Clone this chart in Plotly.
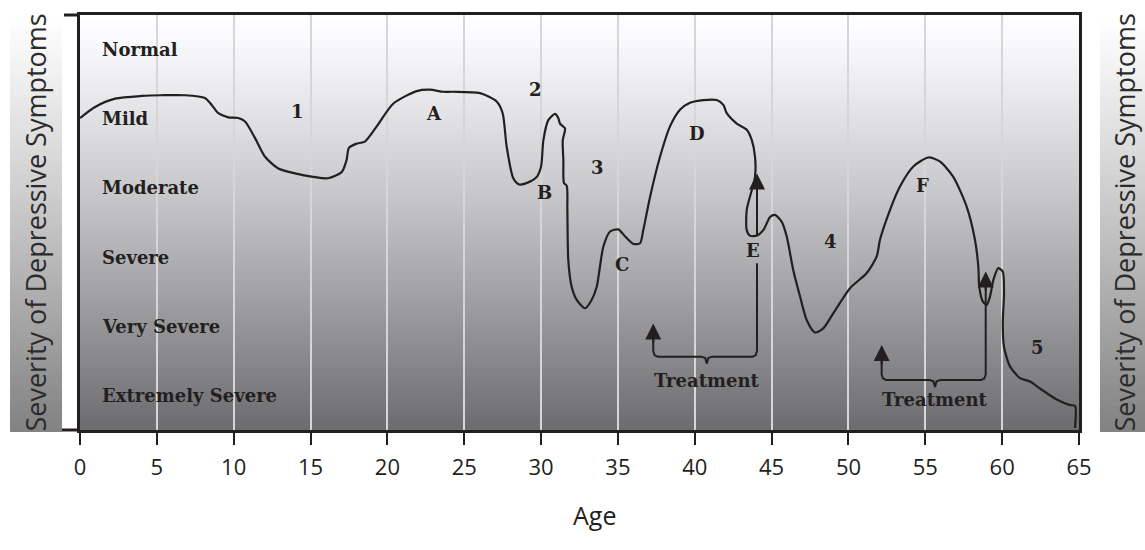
import plotly.graph_objects as go

# ---------------- data ----------------
ages = [0.0, 0.98, 2.28, 4.02, 5.32, 6.83, 8.13, 8.57, 9.0, 9.65, 10.3, 10.74, 11.39, 12.04,
        12.9, 13.99, 15.16, 16.14, 17.03, 17.34, 17.5, 18.0, 18.54, 19.31, 20.39, 21.91, 22.77,
        23.64, 24.29, 26.03, 27.11, 27.5, 27.76, 28.19, 28.58, 29.17, 29.72, 30.0, 30.15, 30.47,
        30.91, 31.12, 31.23, 31.56, 31.41, 31.45, 31.49, 31.67, 31.71, 31.77, 31.99, 32.32, 32.86,
        33.29, 33.62, 34.05, 34.49, 35.03, 35.46, 36.0, 36.44, 36.65, 37.09, 37.74, 38.39, 39.04,
        39.69, 40.56, 41.43, 41.86, 42.08, 42.73, 43.38, 43.71, 43.92, 43.92, 43.71, 43.38, 43.38,
        43.59, 44.03, 44.46, 44.9, 45.22, 45.66, 45.98, 46.41, 46.85, 47.28, 47.82, 48.36, 49.02,
        50.1, 51.19, 51.84, 52.05, 52.7, 53.35, 54.22, 55.2, 55.96, 56.82, 57.69, 58.23, 58.45,
        58.51, 58.74, 59.0, 59.21, 59.43, 59.75, 60.04, 60.12, 60.04, 60.12, 60.51, 61.16, 61.81,
        62.46, 63.55, 64.42, 64.74, 64.74]
severity = [4.51, 4.67, 4.79, 4.83, 4.84, 4.84, 4.8, 4.7, 4.58, 4.52, 4.51, 4.46, 4.22, 3.95,
            3.78, 3.71, 3.66, 3.64, 3.73, 3.9, 4.08, 4.14, 4.17, 4.39, 4.72, 4.9, 4.92,
            4.89, 4.89, 4.87, 4.75, 4.58, 4.1, 3.64, 3.55, 3.58, 3.66, 3.81, 4.19, 4.48,
            4.57, 4.51, 4.43, 4.36, 4.19, 3.9, 3.57, 3.53, 3.18, 2.46, 2.07, 1.88, 1.76,
            1.88, 2.07, 2.65, 2.87, 2.9, 2.8, 2.69, 2.7, 2.89, 3.37, 3.95, 4.39, 4.63,
            4.73, 4.77, 4.77, 4.7, 4.58, 4.43, 4.34, 4.19, 3.95, 3.66, 3.47, 3.18, 2.89,
            2.81, 2.81, 2.89, 3.08, 3.11, 3.01, 2.8, 2.31, 1.93, 1.59, 1.41, 1.47, 1.69,
            2.05, 2.27, 2.51, 2.75, 3.18, 3.52, 3.81, 3.94, 3.88, 3.66, 3.23, 2.75, 2.36,
            2.07, 1.86, 1.81, 1.93, 2.17, 2.34, 2.29, 1.98, 1.54, 1.2, 0.92, 0.75, 0.7,
            0.6, 0.44, 0.36, 0.35, 0.03]

age_ticks = [0, 5, 10, 15, 20, 25, 30, 35, 40, 45, 50, 55, 60, 65]
severity_levels = ["Extremely Severe", "Very Severe", "Severe", "Moderate", "Mild", "Normal"]
level_centers = [0.5, 1.5, 2.5, 3.5, 4.5, 5.5]

phase_labels = ["1", "A", "2", "B", "3", "C", "D", "E", "4", "F", "5"]
phase_ages = [14.12, 23.03, 29.61, 30.19, 33.7, 35.27, 40.15, 43.79, 48.86, 54.79, 62.27]
phase_sev = [4.6, 4.58, 4.92, 3.44, 3.79, 2.39, 4.28, 2.59, 2.73, 3.53, 1.2]

# treatment brackets: left arrow age, right arrow age, base severity, tips, brace age
treat_left = [37.3, 52.16]
treat_right = [44.05, 58.93]
treat_base = [1.06, 0.723]
treat_left_tip = [1.54, 1.23]
treat_right_tip = [3.71, 2.29]
treat_brace = [40.78, 55.63]
treat_label_sev = [0.72, 0.434]
treat_gap = [(2.41, 2.805), None]  # gap in right line around label "E"

INK = "#231f20"
SERIF = "DejaVu Serif"
SANS = "Open Sans"

fig = go.Figure()

# ---------------- background gradient ----------------
shapes = []
N = 100
step = 6 / N
def gray_at(t):  # t = 0 at top, 1 at bottom
    g = int(round(255 - 147 * (max(t, 0) ** 1.15)))
    return f"rgb({g},{g},{min(255, g + 3)})"

for i in range(N):
    y0 = i * step
    y1 = min(6, y0 + step * 1.8)
    t = 1 - (y0 + step / 2) / 6
    shapes.append(dict(type="rect", xref="x", yref="y", x0=0, x1=65, y0=y0, y1=y1,
                       fillcolor=gray_at(t), line=dict(width=0), layer="below"))

# side title boxes
def side_box(x0, x1):
    M = 80
    s = 1.01 / M
    for i in range(M):
        y0 = -0.005 + i * s
        y1 = min(1.005, y0 + s * 1.8)
        t = 1 - (y0 + s / 2)
        g = int(round(255 - 125 * (max(t, 0) ** 1.1)))
        shapes.append(dict(type="rect", xref="paper", yref="paper", x0=x0, x1=x1, y0=y0, y1=y1,
                           fillcolor=f"rgb({g},{g},{g})", line=dict(width=0), layer="below"))

side_box(-0.070, -0.018)
side_box(1.021, 1.07)

# axis line overshoots on the left
shapes.append(dict(type="line", xref="paper", yref="paper", x0=-0.016, x1=0, y0=1, y1=1,
                   line=dict(color=INK, width=3)))
shapes.append(dict(type="line", xref="paper", yref="paper", x0=-0.018, x1=0, y0=0, y1=0,
                   line=dict(color=INK, width=3)))

# ---------------- curve ----------------
fig.add_trace(go.Scatter(x=ages, y=severity, mode="lines",
                         line=dict(color=INK, width=2.2, shape="spline", smoothing=0.7),
                         hoverinfo="skip", showlegend=False))

# ---------------- treatment brackets ----------------
annotations = []
for k in range(len(treat_left)):
    L, R, b = treat_left[k], treat_right[k], treat_base[k]
    br = treat_brace[k]
    dx, dy = 0.3, 0.08
    xs = [L, L, L + dx * 0.3, L + dx, br - 0.35, br - 0.1, br, br + 0.1, br + 0.35, R - dx, R - dx * 0.3, R, R]
    ys = [treat_left_tip[k] - 0.1, b + dy, b + dy * 0.25, b, b, b - 0.02, b - 0.1, b - 0.02, b, b, b + dy * 0.25, b + dy, None]
    gap = treat_gap[k]
    if gap:
        ys[-1] = gap[0]
        xs += [None, R, R]
        ys += [None, gap[1], treat_right_tip[k] - 0.1]
    else:
        ys[-1] = treat_right_tip[k] - 0.1
    fig.add_trace(go.Scatter(x=xs, y=ys, mode="lines", line=dict(color=INK, width=2),
                             connectgaps=False, hoverinfo="skip", showlegend=False))
    for (ax_, tip) in [(L, treat_left_tip[k]), (R, treat_right_tip[k])]:
        annotations.append(dict(x=ax_, y=tip, ax=ax_, ay=tip - 0.3, xref="x", yref="y",
                                axref="x", ayref="y", text="", showarrow=True,
                                arrowhead=2, arrowsize=1.6, arrowwidth=2, arrowcolor=INK))
    annotations.append(dict(x=br, y=treat_label_sev[k], xref="x", yref="y", text="Treatment",
                            showarrow=False, xanchor="center", yanchor="middle",
                            font=dict(family=SERIF, size=18, color=INK, weight="bold")))

# ---------------- text labels ----------------
for name, c in zip(severity_levels, level_centers):
    annotations.append(dict(x=1.3, y=c, xref="x", yref="y", text=name, showarrow=False,
                            xanchor="left", yanchor="middle",
                            font=dict(family=SERIF, size=18, color=INK, weight="bold")))

for t, a, s in zip(phase_labels, phase_ages, phase_sev):
    annotations.append(dict(x=a, y=s, xref="x", yref="y", text=t, showarrow=False,
                            xanchor="center", yanchor="middle",
                            font=dict(family=SERIF, size=18, color=INK, weight="bold")))

side_title = "Severity of Depressive Symptoms"
annotations.append(dict(x=-0.045, y=0.5, xref="paper", yref="paper", text=side_title,
                        textangle=-90, showarrow=False, xanchor="center", yanchor="middle",
                        font=dict(family=SANS, size=27, color="#2b2b2b")))
annotations.append(dict(x=1.046, y=0.5, xref="paper", yref="paper", text=side_title,
                        textangle=-90, showarrow=False, xanchor="center", yanchor="middle",
                        font=dict(family=SANS, size=27, color="#2b2b2b")))
annotations.append(dict(x=0.5155, y=-0.205, xref="paper", yref="paper", text="Age",
                        showarrow=False, xanchor="center", yanchor="middle",
                        font=dict(family=SANS, size=25, color=INK)))

fig.update_layout(
    width=1145, height=550,
    margin=dict(l=80, r=66, t=15, b=120),
    paper_bgcolor="white", plot_bgcolor="white",
    shapes=shapes, annotations=annotations,
    showlegend=False,
    xaxis=dict(range=[0, 65], tickvals=age_ticks, ticktext=[str(v) for v in age_ticks],
               showgrid=True, gridcolor="#d6d6d6", gridwidth=2,
               showline=True, linecolor=INK, linewidth=3, mirror=True,
               ticks="outside", ticklen=12, tickwidth=2, tickcolor=INK,
               tickfont=dict(family=SANS, size=22, color=INK), ticklabelstandoff=4,
               zeroline=False, fixedrange=True),
    yaxis=dict(range=[0, 6], showgrid=False, showticklabels=False, ticks="",
               showline=True, linecolor=INK, linewidth=3, mirror=True,
               zeroline=False, fixedrange=True),
)

fig.write_html("out.html", config={"displayModeBar": False},
               post_script="document.body.style.margin='0px';document.body.style.overflow='hidden';")
